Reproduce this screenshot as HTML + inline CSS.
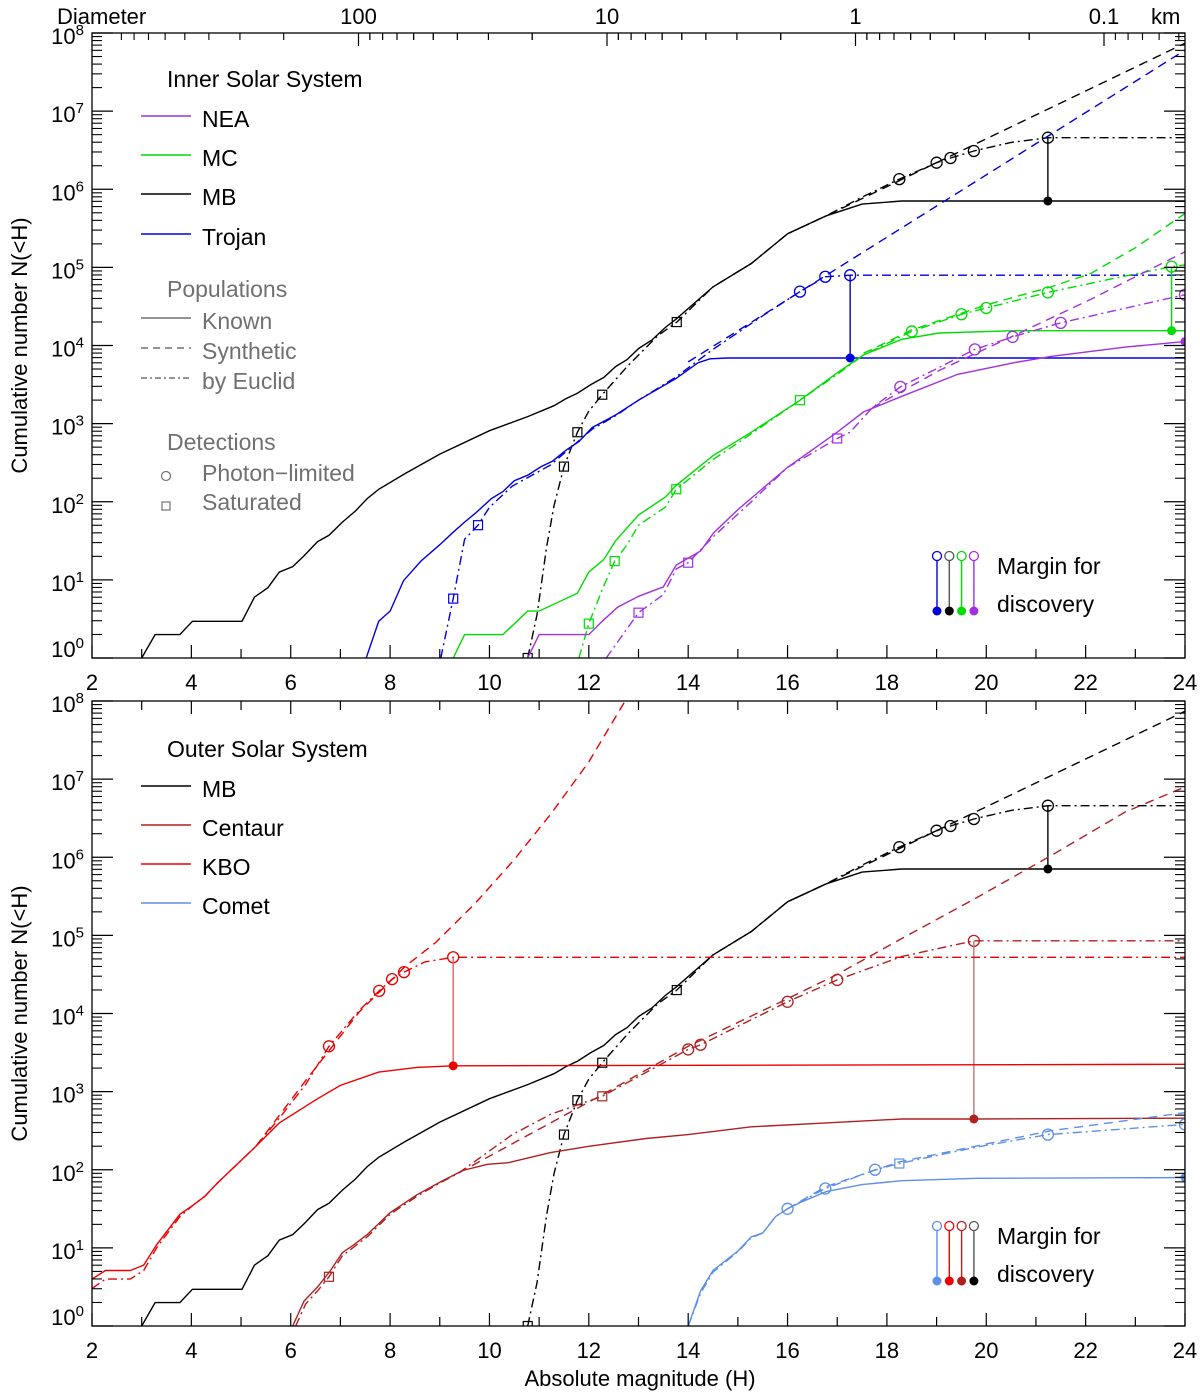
<!DOCTYPE html>
<html><head><meta charset="utf-8">
<style>
html,body{margin:0;padding:0;background:#fff;}
svg{display:block;font-family:"Liberation Sans",sans-serif;}
</style></head>
<body>
<svg id="chart" width="1200" height="1396" viewBox="0 0 1200 1396" xmlns="http://www.w3.org/2000/svg"></svg>
<script>
// ---------- DATA (H = absolute magnitude, values = log10 N(<H)) ----------
const mbKnownH = [3.0,3.27,3.77,4.02,5.02,5.27,5.54,5.77,6.04,6.27,6.54,6.77,7.04,7.3,7.54,7.77,8.3,9.0,10.0,10.77,11.3,11.54,11.77,12.04,12.3,12.54,12.77,13.0,13.27,13.54,13.76,14.5,15.27,16.0,16.78,17.5,18.3,24];
const mbKnownLogN = [0,0.3,0.3,0.47,0.47,0.78,0.9,1.1,1.17,1.31,1.49,1.57,1.74,1.88,2.04,2.16,2.36,2.61,2.91,3.09,3.23,3.32,3.39,3.5,3.59,3.73,3.82,3.96,4.07,4.23,4.34,4.75,5.05,5.43,5.66,5.81,5.85,5.85];
const mbSynH = [16.0,16.78,24];
const mbSynLogN = [5.43,5.66,7.87];
const mbEucH = [10.77,10.96,11.15,11.3,11.5,11.77,12.0,12.27,12.77,13.38,13.77,14.5,15.27,16.0,16.78,17.5,18.25,19.0,19.28,19.75,20.5,21.24,24];
const mbEucLogN = [0,0.56,1.42,1.95,2.45,2.89,3.16,3.37,3.73,4.12,4.3,4.75,5.05,5.43,5.66,5.9,6.13,6.34,6.4,6.49,6.6,6.66,6.66];
const mbCircH = [18.25,19.0,19.28,19.75,21.24];
const mbSquareH = [10.77,11.5,11.77,12.27,13.77];
const mbMarginH = 21.24;
const trKnownH = [7.52,7.77,8.0,8.27,8.62,9.0,9.27,9.5,9.73,10.04,10.27,10.5,10.77,11.04,11.27,11.54,11.8,12.07,12.54,13.0,13.76,14.2,14.44,14.8,24];
const trKnownLogN = [0,0.47,0.6,0.99,1.24,1.45,1.61,1.74,1.86,2.04,2.13,2.27,2.34,2.45,2.52,2.66,2.77,2.95,3.11,3.3,3.58,3.78,3.83,3.84,3.84];
const trSynH = [14.0,24];
const trSynLogN = [3.79,7.78];
const trEucH = [9.02,9.27,9.5,9.77,10.0,10.46,11.23,12.07,12.54,13.0,13.76,14.5,15.5,16.25,16.76,17.26,24];
const trEucLogN = [0,0.76,1.52,1.7,1.93,2.2,2.47,2.93,3.1,3.3,3.6,3.95,4.38,4.69,4.88,4.9,4.9];
const trCircH = [16.25,16.76,17.26];
const trSquareH = [9.27,9.77];
const trMarginH = 17.26;
const mcKnownH = [9.27,9.5,10.27,10.77,11.0,11.77,12.0,12.3,12.54,13.0,13.54,13.76,14.5,15.27,16.25,17.0,17.53,18.3,19.05,20.56,24];
const mcKnownLogN = [0,0.3,0.3,0.6,0.6,0.83,1.1,1.26,1.5,1.83,2.06,2.21,2.59,2.89,3.3,3.65,3.88,4.08,4.16,4.19,4.19];
const mcSynH = [17.53,18.5,20,21.3,22.1,23.0,24];
const mcSynLogN = [3.9,4.2,4.52,4.75,4.92,5.25,5.69];
const mcEucH = [11.8,12.0,12.3,12.52,12.77,13.0,13.54,13.76,14.5,15.27,16.25,17.0,17.53,18.5,19.5,20.0,21.24,22.5,23.73,24];
const mcEucLogN = [0,0.44,0.92,1.24,1.45,1.7,1.93,2.16,2.54,2.87,3.3,3.63,3.88,4.18,4.4,4.48,4.68,4.85,5.01,5.03];
const mcCircH = [18.5,19.5,20.0,21.24,23.73];
const mcSquareH = [12.0,12.52,13.76,16.25];
const mcMarginH = 23.73;
const neaKnownH = [10.77,11.0,12.0,12.27,12.58,13.0,13.5,13.76,14.25,14.51,15.0,16.0,17.0,17.53,18.3,19.42,20.56,21.3,22.8,24];
const neaKnownLogN = [0,0.3,0.3,0.47,0.65,0.79,0.91,1.19,1.37,1.6,1.9,2.44,2.89,3.15,3.35,3.63,3.78,3.86,3.98,4.05];
const neaSynH = [17.7,19.05,20.5,22.1,24];
const neaSynLogN = [3.2,3.68,4.11,4.59,5.2];
const neaEucH = [12.35,13.0,13.5,13.76,14.0,14.5,15.27,16.0,17.0,17.26,17.7,18.27,19.77,20.53,21.5,24];
const neaEucLogN = [0,0.58,0.81,1.14,1.22,1.55,2.0,2.44,2.81,2.89,3.2,3.47,3.95,4.11,4.29,4.65];
const neaCircH = [18.27,19.77,20.53,21.5,24];
const neaSquareH = [13.0,14.0,17.0];
const neaMarginH = 24;
const kboKnownH = [2,2.27,2.77,3.04,3.3,3.77,4.04,4.27,4.54,4.92,5.3,5.77,6.54,7.0,7.77,8.54,9.27,24];
const kboKnownLogN = [0.6,0.71,0.71,0.78,1.04,1.43,1.55,1.66,1.84,2.07,2.3,2.6,2.91,3.08,3.25,3.31,3.33,3.35];
const kboSynH = [5.3,6.3,7.38,8.3,8.92,9.7,10.46,11.23,12.0,12.73];
const kboSynLogN = [2.3,3.14,4.02,4.6,4.91,5.4,5.94,6.55,7.22,8.0];
const kboEucH = [2,2.27,2.77,3.04,3.3,3.77,4.04,4.27,4.54,4.92,5.3,5.77,6.3,6.77,7.38,7.78,8.04,8.28,8.7,9.27,24];
const kboEucLogN = [0.48,0.6,0.6,0.71,1.0,1.4,1.55,1.66,1.84,2.07,2.3,2.66,3.09,3.58,4.04,4.29,4.44,4.53,4.66,4.72,4.72];
const kboCircH = [6.77,7.78,8.04,8.28,9.27];
const kboMarginH = 9.27;
const cenKnownH = [6.04,6.27,6.54,6.8,7.04,7.27,7.54,8.0,8.54,9.0,9.46,9.96,10.38,11.23,12.0,13.15,14.0,15.27,16.78,18.3,19.75,24];
const cenKnownLogN = [0,0.32,0.5,0.71,0.94,1.04,1.17,1.45,1.68,1.84,1.99,2.07,2.09,2.22,2.3,2.4,2.45,2.55,2.6,2.65,2.65,2.66];
const cenSynH = [9.38,12.27,14.0,16,17,18.3,19.8,21.3,22.8,24];
const cenSynLogN = [1.96,2.96,3.58,4.19,4.5,4.96,5.48,6.02,6.58,6.9];
const cenEucH = [6.1,6.3,6.54,6.77,7.04,7.54,8.0,8.54,9.0,9.38,10.46,11.23,12.27,14.0,14.25,16.0,17.0,18.3,19.75,24];
const cenEucLogN = [0,0.28,0.45,0.63,0.9,1.14,1.43,1.66,1.83,1.96,2.45,2.71,2.94,3.54,3.6,4.15,4.43,4.73,4.93,4.93];
const cenCircH = [14.0,14.25,16.0,17.0,19.75];
const cenSquareH = [6.77,12.27];
const cenMarginH = 19.75;
const comKnownH = [14.0,14.25,14.5,15.0,15.27,15.5,15.76,16.0,16.25,16.78,17.5,18.3,19.8,24];
const comKnownLogN = [0,0.45,0.71,0.96,1.14,1.19,1.4,1.5,1.58,1.72,1.81,1.86,1.89,1.9];
const comSynH = [16.0,16.76,18.25,21.3,24];
const comSynLogN = [1.5,1.78,2.1,2.5,2.73];
const comEucH = [14.0,14.25,14.5,15.0,15.27,15.5,15.76,16.0,16.76,17.76,18.25,19.8,21.24,24];
const comEucLogN = [0,0.42,0.69,0.95,1.13,1.19,1.4,1.5,1.76,2.0,2.08,2.29,2.45,2.58];
const comCircH = [16.0,16.76,17.76,21.24,24];
const comSquareH = [18.25];
const comMarginH = 24;

const xTickLabels = ["2","4","6","8","10","12","14","16","18","20","22","24"];
const yDecades = [0,1,2,3,4,5,6,7,8];
const diamLabels = ["100","10","1","0.1"];

// ---------- helpers ----------
const NS = "http://www.w3.org/2000/svg";
const svg = document.getElementById('chart');
const X0 = 92, X1 = 1185, HMIN = 2, HMAX = 24;
function xH(h){ return X0 + (h - HMIN) * (X1 - X0) / (HMAX - HMIN); }
function mk(tag, attrs, parent){
  const e = document.createElementNS(NS, tag);
  for (const k in attrs) e.setAttribute(k, attrs[k]);
  (parent || svg).appendChild(e);
  return e;
}
function interp(hs, vs, h){
  if (h <= hs[0]) return vs[0];
  for (let i = 1; i < hs.length; i++) if (h <= hs[i]) { const t = (h - hs[i-1])/(hs[i]-hs[i-1]); return vs[i-1] + t*(vs[i]-vs[i-1]); }
  return vs[vs.length-1];
}
const DASH = "9,6", DDOT = "9,4,2,4";

function makePanel(name, pTop, pBottom){
  const p = { top: pTop, bottom: pBottom, dec: (pBottom - pTop)/8 };
  p.y = v => p.bottom - v * p.dec;
  const g = mk('g', {});
  
  
  const cid = name + '-clip';
  const cp = mk('clipPath', {id: cid}, g);
  mk('rect', {x: X0, y: pTop, width: X1 - X0, height: pBottom - pTop}, cp);
  p.g = g;
  p.plot = mk('g', {'clip-path': 'url(#' + cid + ')'}, g);
  return p;
}

function line(p, hs, vs, color, dash, nm){
  const d = hs.map((h,i) => (i ? 'L' : 'M') + xH(h).toFixed(1) + ' ' + p.y(vs[i]).toFixed(1)).join(' ');
  const e = mk('path', {d, fill: 'none', stroke: color, 'stroke-width': 1.4, 'stroke-dasharray': dash || 'none'}, p.plot);
  
  
}
function circles(p, hs, curveH, curveV, color, nm){
  hs.forEach(h => {
    const e = mk('circle', {cx: xH(h), cy: p.y(interp(curveH, curveV, h)), r: 5.5, fill: 'none', stroke: color, 'stroke-width': 1.3}, p.plot);
    
    
  });
}
function squares(p, hs, curveH, curveV, color, nm){
  hs.forEach(h => {
    const cx = xH(h), cy = p.y(interp(curveH, curveV, h));
    const e = mk('rect', {x: cx - 4.5, y: cy - 4.5, width: 9, height: 9, fill: 'none', stroke: color, 'stroke-width': 1.2}, p.plot);
    
    
  });
}
function margin(p, h, knownH, knownV, eucH, eucV, color, lineColor, nm){
  const x = xH(h), y1 = p.y(interp(knownH, knownV, h)), y2 = p.y(interp(eucH, eucV, h));
  const l = mk('line', {x1: x, x2: x, y1: y1, y2: y2, stroke: lineColor, 'stroke-width': 1.4}, p.plot);
  
  
  const c = mk('circle', {cx: x, cy: y1, r: 4.5, fill: color}, p.plot);
  
  
}
function series(p, o){
  line(p, o.kh, o.kv, o.c, null, o.n + '-known-line');
  if (o.sh) line(p, o.sh, o.sv, o.c, DASH, o.n + '-synthetic-line');
  line(p, o.eh, o.ev, o.c, DDOT, o.n + '-euclid-line');
  if (o.circ) circles(p, o.circ, o.eh, o.ev, o.c, o.n + '-photon-limited-marker');
  if (o.sq) squares(p, o.sq, o.eh, o.ev, o.c, o.n + '-saturated-marker');
  margin(p, o.m, o.kh, o.kv, o.eh, o.ev, o.c, o.ml || o.c, o.n + '-margin');
}

function axes(p, isTop){
  const g = p.g;
  const fr = mk('rect', {x: X0, y: p.top, width: X1 - X0, height: p.bottom - p.top, fill: 'none', stroke: '#000', 'stroke-width': 1.3}, g);
  
  
  for (let h = 2; h <= 24; h++){
    const x = xH(h), len = (h % 2 === 0) ? 13 : 9;
    mk('line', {x1: x, x2: x, y1: p.bottom, y2: p.bottom - len, stroke: '#000', 'stroke-width': 1.2}, g);
    if (!isTop) mk('line', {x1: x, x2: x, y1: p.top, y2: p.top + len, stroke: '#000', 'stroke-width': 1.2}, g);
  }
  xTickLabels.forEach((lab, i) => {
    const h = 2 + 2*i;
    const t = mk('text', {x: xH(h), y: p.bottom + 32, 'font-size': 22, 'text-anchor': 'middle', fill: '#000'}, g);
    t.textContent = lab;
    
    
  });
  yDecades.forEach(d => {
    const y = p.y(d);
    mk('line', {x1: X0, x2: X0 + 21, y1: y, y2: y, stroke: '#000', 'stroke-width': 1.2}, g);
    mk('line', {x1: X1, x2: X1 - 21, y1: y, y2: y, stroke: '#000', 'stroke-width': 1.2}, g);
    if (d < 8) for (let k = 2; k <= 9; k++){
      const yy = p.y(d + Math.log10(k));
      mk('line', {x1: X0, x2: X0 + 10, y1: yy, y2: yy, stroke: '#000', 'stroke-width': 1.1}, g);
      mk('line', {x1: X1, x2: X1 - 10, y1: yy, y2: yy, stroke: '#000', 'stroke-width': 1.1}, g);
    }
    const t = mk('text', {x: 84, y: d === 0 ? y - 1 : y + 11, 'font-size': 22, 'text-anchor': 'end', fill: '#000'}, g);
    
    
    const a = mk('tspan', {}, t); a.textContent = '10';
    const b = mk('tspan', {'font-size': 15, dy: -9}, t); b.textContent = String(d);
  });
  const yl = mk('text', {x: 0, y: 0, 'font-size': 22, 'text-anchor': 'middle', fill: '#000', transform: 'translate(27,' + ((p.top + p.bottom)/2) + ') rotate(-90)'}, g);
  yl.textContent = 'Cumulative number N(<H)';
  
  
}

function legendText(g, x, y, txt, color, nm){
  const t = mk('text', {x: x, y: y, 'font-size': 23, fill: color}, g);
  t.textContent = txt;
  
  
  return t;
}
function legendEntry(g, y, txt, color, dash, nm, tc){
  const l = mk('line', {x1: 141, x2: 191, y1: y, y2: y, stroke: color, 'stroke-width': 1.5, 'stroke-dasharray': dash || 'none'}, g);
  
  
  legendText(g, 202, y + 11, txt, tc || '#000', nm + '-label');
}
function marginLegend(g, yTop, yBot, colors, fills){
  colors.forEach((c, i) => {
    const x = 937 + i * 12.3;
    mk('line', {x1: x, x2: x, y1: yTop + 5, y2: yBot, stroke: c, 'stroke-width': 1.4}, g);
    mk('circle', {cx: x, cy: yTop, r: 4.5, fill: 'none', stroke: c, 'stroke-width': 1.3}, g);
    mk('circle', {cx: x, cy: yBot, r: 4.5, fill: fills[i]}, g);
  });
  legendText(g, 997, yTop + 18, 'Margin for', '#000', 'margin-legend-title');
  legendText(g, 997, yBot + 1, 'discovery', '#000', 'margin-legend-title-2');
}

const C_NEA = '#a030e0', C_MC = '#00dd00', C_MB = '#000000', C_TR = '#0000dd';
const C_KBO = '#ee0000', C_CEN = '#b02020', C_COM = '#5d8fe8';

// ---------- TOP PANEL ----------
const topP = makePanel('inner-solar-system-panel', 33, 658);
series(topP, {n:'mb', c:C_MB, kh:mbKnownH, kv:mbKnownLogN, sh:mbSynH, sv:mbSynLogN, eh:mbEucH, ev:mbEucLogN, circ:mbCircH, sq:mbSquareH, m:mbMarginH});
series(topP, {n:'trojan', c:C_TR, kh:trKnownH, kv:trKnownLogN, sh:trSynH, sv:trSynLogN, eh:trEucH, ev:trEucLogN, circ:trCircH, sq:trSquareH, m:trMarginH});
series(topP, {n:'mc', c:C_MC, kh:mcKnownH, kv:mcKnownLogN, sh:mcSynH, sv:mcSynLogN, eh:mcEucH, ev:mcEucLogN, circ:mcCircH, sq:mcSquareH, m:mcMarginH});
series(topP, {n:'nea', c:C_NEA, kh:neaKnownH, kv:neaKnownLogN, sh:neaSynH, sv:neaSynLogN, eh:neaEucH, ev:neaEucLogN, circ:neaCircH, sq:neaSquareH, m:neaMarginH});
axes(topP, true);
(function(){
  const g = topP.g;
  const decX = [358.5, 607, 855.5, 1104];
  const step = decX[1] - decX[0];
  decX.forEach((x0, i) => {
    mk('line', {x1: x0, x2: x0, y1: topP.top, y2: topP.top + 13, stroke: '#000', 'stroke-width': 1.2}, g);
    const t = mk('text', {x: x0, y: 24, 'font-size': 22, 'text-anchor': 'middle', fill: '#000'}, g);
    t.textContent = diamLabels[i];
    
    
    for (let k = 2; k <= 9; k++){
      const xr = x0 + step * Math.log10(10 / k);
      const xl = x0 - step * Math.log10(k);
      [xl, xr].forEach(x => { if (x > X0 + 2 && x < X1 - 2) mk('line', {x1: x, x2: x, y1: topP.top, y2: topP.top + 7, stroke: '#000', 'stroke-width': 1.1}, g); });
    }
  });
  const d = mk('text', {x: 57, y: 24, 'font-size': 22, fill: '#000'}, g);
  d.textContent = 'Diameter';
  
  
  const km = mk('text', {x: 1151, y: 24, 'font-size': 22, fill: '#000'}, g);
  km.textContent = 'km';
  
  
})();
(function(){
  const g = mk('g', {}, topP.g);
  
  
  legendText(g, 167, 87, 'Inner Solar System', '#000', 'legend-title');
  legendEntry(g, 116, 'NEA', C_NEA, null, 'legend-nea');
  legendEntry(g, 155, 'MC', C_MC, null, 'legend-mc');
  legendEntry(g, 194, 'MB', C_MB, null, 'legend-mb');
  legendEntry(g, 234, 'Trojan', C_TR, null, 'legend-trojan');
  legendText(g, 167, 297, 'Populations', '#707070', 'legend-populations-title');
  legendEntry(g, 318, 'Known', '#707070', null, 'legend-known', '#707070');
  legendEntry(g, 348, 'Synthetic', '#707070', '7,5', 'legend-synthetic', '#707070');
  legendEntry(g, 378, 'by Euclid', '#707070', '6,3,2,3', 'legend-euclid', '#707070');
  legendText(g, 167, 450, 'Detections', '#707070', 'legend-detections-title');
  mk('circle', {cx: 166, cy: 476, r: 4.5, fill: 'none', stroke: '#707070', 'stroke-width': 1.2}, g);
  legendText(g, 202, 481, 'Photon\u2212limited', '#707070', 'legend-photon-limited');
  mk('rect', {x: 162, y: 502, width: 8, height: 8, fill: 'none', stroke: '#707070', 'stroke-width': 1.2}, g);
  legendText(g, 202, 510, 'Saturated', '#707070', 'legend-saturated');
  marginLegend(g, 556, 611, ['#0000dd','#555','#00dd00','#a030e0'], ['#0000dd','#000','#00dd00','#a030e0']);
})();

// ---------- BOTTOM PANEL ----------
const botP = makePanel('outer-solar-system-panel', 701, 1326);
series(botP, {n:'mb', c:C_MB, kh:mbKnownH, kv:mbKnownLogN, sh:mbSynH, sv:mbSynLogN, eh:mbEucH, ev:mbEucLogN, circ:mbCircH, sq:mbSquareH, m:mbMarginH});
series(botP, {n:'centaur', c:C_CEN, kh:cenKnownH, kv:cenKnownLogN, sh:cenSynH, sv:cenSynLogN, eh:cenEucH, ev:cenEucLogN, circ:cenCircH, sq:cenSquareH, m:cenMarginH, ml:'#c87070'});
series(botP, {n:'kbo', c:C_KBO, kh:kboKnownH, kv:kboKnownLogN, sh:kboSynH, sv:kboSynLogN, eh:kboEucH, ev:kboEucLogN, circ:kboCircH, m:kboMarginH, ml:'#e06060'});
series(botP, {n:'comet', c:C_COM, kh:comKnownH, kv:comKnownLogN, sh:comSynH, sv:comSynLogN, eh:comEucH, ev:comEucLogN, circ:comCircH, sq:comSquareH, m:comMarginH});
axes(botP, false);
(function(){
  const g = mk('g', {}, botP.g);
  
  
  legendText(g, 167, 757, 'Outer Solar System', '#000', 'legend-title');
  legendEntry(g, 786, 'MB', C_MB, null, 'legend-mb');
  legendEntry(g, 825, 'Centaur', C_CEN, null, 'legend-centaur');
  legendEntry(g, 864, 'KBO', C_KBO, null, 'legend-kbo');
  legendEntry(g, 903, 'Comet', C_COM, null, 'legend-comet');
  marginLegend(g, 1226, 1281, ['#5d8fe8','#ee0000','#b02020','#555'], ['#5d8fe8','#ee0000','#b02020','#000']);
  const xt = mk('text', {x: 640, y: 1386, 'font-size': 22, 'text-anchor': 'middle', fill: '#000'}, botP.g);
  xt.textContent = 'Absolute magnitude (H)';
  
  
})();
</script>
</body></html>
